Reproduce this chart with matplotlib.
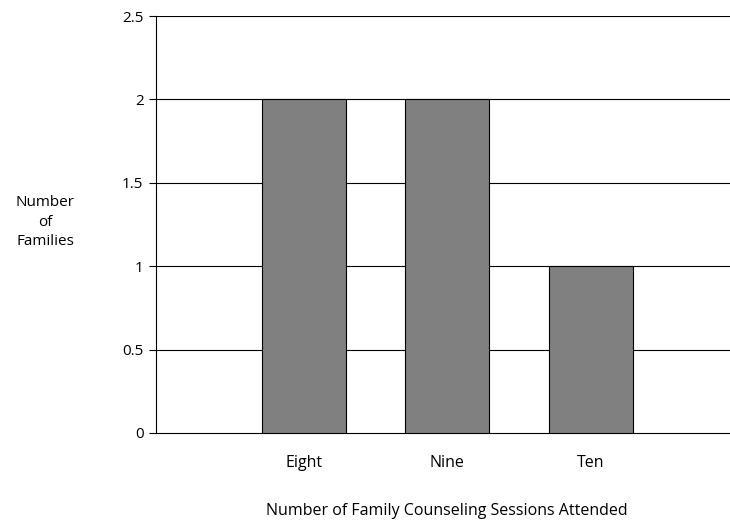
import matplotlib
matplotlib.use("Agg")
import matplotlib.pyplot as plt

categories = ["Eight", "Nine", "Ten"]
values = [2, 2, 1]
yticks = [0, 0.5, 1, 1.5, 2, 2.5]
ytick_labels = ["0", "0.5", "1", "1.5", "2", "2.5"]

plt.rcParams['font.family'] = ['Open Sans', 'DejaVu Sans']

fig = plt.figure(figsize=(7.30, 5.21), dpi=100)
ax = fig.add_axes([156/730, 1-433/521, 1-156/730, (433-16)/521])

pos = [1, 2, 3]
ax.bar(pos, values, width=0.585, color="#808080", edgecolor="black", linewidth=0.8, zorder=3)

ax.set_xlim(-0.03, 3.97)
ax.set_ylim(0, 2.5)
ax.set_yticks(yticks)
ax.set_yticklabels(ytick_labels, fontsize=11)
ax.set_xticks(pos)
ax.set_xticklabels(categories, fontsize=11.5)
ax.tick_params(axis='x', length=0, pad=16)
ax.tick_params(axis='y', length=5, direction='out', width=0.8, pad=4)

for y in yticks[1:]:
    ax.axhline(y, color="black", linewidth=0.8, zorder=1)

for s in ['top', 'right']:
    ax.spines[s].set_visible(False)
ax.spines['left'].set_linewidth(0.8)
ax.spines['bottom'].set_linewidth(0.8)

fig.text(45/730, 1-222/521, "Number\nof\nFamilies", ha='center', va='center', fontsize=11, linespacing=1.45)
fig.text(447/730, 1-511/521, "Number of Family Counseling Sessions Attended", ha='center', va='center', fontsize=11.5)

fig.savefig("out.png", dpi=100)
